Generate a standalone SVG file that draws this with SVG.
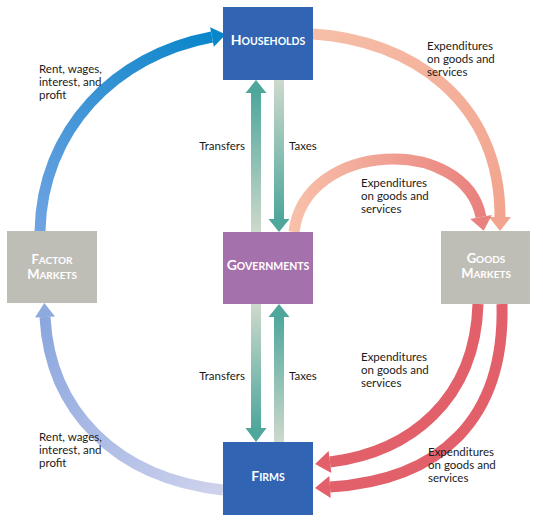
<svg xmlns="http://www.w3.org/2000/svg" width="543" height="522" viewBox="0 0 543 522">
<style>
.lbl{font-family:Lato,"Liberation Sans",sans-serif;font-size:11.5px;fill:#1a1a1a}
.nt{font-family:Lato,"Liberation Sans",sans-serif;font-weight:bold;fill:#ffffff;text-anchor:middle}
.big{font-size:14px}
.sm{font-size:10.5px}
.big2{font-size:13px}
.sm2{font-size:10px}
.arc{fill:none;stroke-width:11}
</style>
<defs>
<linearGradient id="gBlueTop" gradientUnits="userSpaceOnUse" x1="40" y1="231" x2="212" y2="37">
<stop offset="0" stop-color="#6fa3e2"/><stop offset="1" stop-color="#0a86ca"/></linearGradient>
<linearGradient id="gBlueBot" gradientUnits="userSpaceOnUse" x1="223" y1="490" x2="45" y2="317">
<stop offset="0" stop-color="#cfd2ec"/><stop offset="1" stop-color="#8aa6de"/></linearGradient>
<linearGradient id="gSal1" gradientUnits="userSpaceOnUse" x1="313" y1="34" x2="500" y2="217">
<stop offset="0" stop-color="#f6bea8"/><stop offset="1" stop-color="#f2a48e"/></linearGradient>
<linearGradient id="gSal2" gradientUnits="userSpaceOnUse" x1="294" y1="0" x2="481" y2="0">
<stop offset="0" stop-color="#f8c0a8"/><stop offset="1" stop-color="#e9817e"/></linearGradient>
<linearGradient id="gUpA" gradientUnits="userSpaceOnUse" x1="0" y1="93" x2="0" y2="232">
<stop offset="0" stop-color="#4fa79c"/><stop offset="1" stop-color="#cdd9cc"/></linearGradient>
<linearGradient id="gDnA" gradientUnits="userSpaceOnUse" x1="0" y1="80" x2="0" y2="219">
<stop offset="0" stop-color="#cdd9cc"/><stop offset="1" stop-color="#4fa79c"/></linearGradient>
<linearGradient id="gDnB" gradientUnits="userSpaceOnUse" x1="0" y1="304" x2="0" y2="428">
<stop offset="0" stop-color="#cdd9cc"/><stop offset="1" stop-color="#4fa79c"/></linearGradient>
<linearGradient id="gUpB" gradientUnits="userSpaceOnUse" x1="0" y1="316" x2="0" y2="442">
<stop offset="0" stop-color="#4fa79c"/><stop offset="1" stop-color="#cdd9cc"/></linearGradient>
</defs>
<rect width="543" height="522" fill="#ffffff"/>
<g id="connectors">
<path class="arc" d="M40,231 C42,130 115,55 212,37" stroke="url(#gBlueTop)"/>
<polygon points="213.8,46.8 225.8,34.4 210.2,27.2" fill="#0a86ca"/>
<path class="arc" d="M223,490 C115,478 50,410 45,317" stroke="url(#gBlueBot)"/>
<polygon points="55,316.5 44.3,303 35,317.5" fill="#8ea9de"/>
<path class="arc" d="M313,34 C410,40 500,100 500,217" stroke="url(#gSal1)"/>
<polygon points="489,217 511,217 500,231" fill="#f2a48e"/>
<path class="arc" d="M294,232 C305,140 465,135 481,217" stroke="url(#gSal2)"/>
<polygon points="491.8,214.9 483.7,230.7 470.2,219.1" fill="#e9817e"/>
<path class="arc" d="M478,304 C475,400 410,452 330,462" stroke="#e2606a"/>
<polygon points="331.4,472.9 315.1,463.9 328.6,451.1" fill="#e2606a"/>
<path class="arc" d="M502,304 C505,420 440,480 330,487" stroke="#e2606a"/>
<polygon points="330.7,498 315,488 329.3,476" fill="#e2606a"/>
<rect x="251" y="92" width="10" height="140" fill="url(#gUpA)"/>
<polygon points="245.5,93 256,80 266.5,93" fill="#4fa79c"/>
<rect x="274" y="80" width="10" height="140" fill="url(#gDnA)"/>
<polygon points="268.5,219 279,232 289.5,219" fill="#4fa79c"/>
<rect x="251" y="304" width="10" height="125" fill="url(#gDnB)"/>
<polygon points="245.5,428 256,442 266.5,428" fill="#4fa79c"/>
<rect x="274" y="315" width="10" height="127" fill="url(#gUpB)"/>
<polygon points="268.5,317 279,304 289.5,317" fill="#4fa79c"/>
</g>
<g id="labels">
<text class="lbl" x="39" y="73">Rent, wages,<tspan x="39" dy="13">interest, and</tspan><tspan x="39" dy="13">profit</tspan></text>
<text class="lbl" x="39" y="441">Rent, wages,<tspan x="39" dy="13">interest, and</tspan><tspan x="39" dy="13">profit</tspan></text>
<text class="lbl" x="427" y="50">Expenditures<tspan x="427" dy="13">on goods and</tspan><tspan x="427" dy="13">services</tspan></text>
<text class="lbl" x="361" y="187">Expenditures<tspan x="361" dy="13">on goods and</tspan><tspan x="361" dy="13">services</tspan></text>
<text class="lbl" x="361" y="361">Expenditures<tspan x="361" dy="13">on goods and</tspan><tspan x="361" dy="13">services</tspan></text>
<text class="lbl" x="428" y="456">Expenditures<tspan x="428" dy="13">on goods and</tspan><tspan x="428" dy="13">services</tspan></text>
<text class="lbl" x="245" y="150" text-anchor="end">Transfers</text>
<text class="lbl" x="289" y="150">Taxes</text>
<text class="lbl" x="245" y="380" text-anchor="end">Transfers</text>
<text class="lbl" x="289" y="380">Taxes</text>
</g>
<g id="households">
<rect x="223" y="7" width="90" height="73" fill="#3164b3"/>
<text class="nt" x="268" y="45"><tspan class="big">H</tspan><tspan class="sm">OUSEHOLDS</tspan></text>
</g>
<g id="governments">
<rect x="223" y="232" width="90" height="72" fill="#a571ad"/>
<text class="nt" x="268" y="270"><tspan class="big">G</tspan><tspan class="sm">OVERNMENTS</tspan></text>
</g>
<g id="firms">
<rect x="223" y="442" width="90" height="73" fill="#3164b3"/>
<text class="nt" x="268" y="481"><tspan class="big">F</tspan><tspan class="sm">IRMS</tspan></text>
</g>
<g id="factor-markets">
<rect x="7" y="231" width="90" height="72" fill="#bfbeb6"/>
<text class="nt" x="52" y="264"><tspan class="big2">F</tspan><tspan class="sm2">ACTOR</tspan></text>
<text class="nt" x="52" y="279"><tspan class="big2">M</tspan><tspan class="sm2">ARKETS</tspan></text>
</g>
<g id="goods-markets">
<rect x="441" y="231" width="89" height="73" fill="#bfbeb6"/>
<text class="nt" x="486" y="263"><tspan class="big2">G</tspan><tspan class="sm2">OODS</tspan></text>
<text class="nt" x="486" y="278"><tspan class="big2">M</tspan><tspan class="sm2">ARKETS</tspan></text>
</g>
</svg>
